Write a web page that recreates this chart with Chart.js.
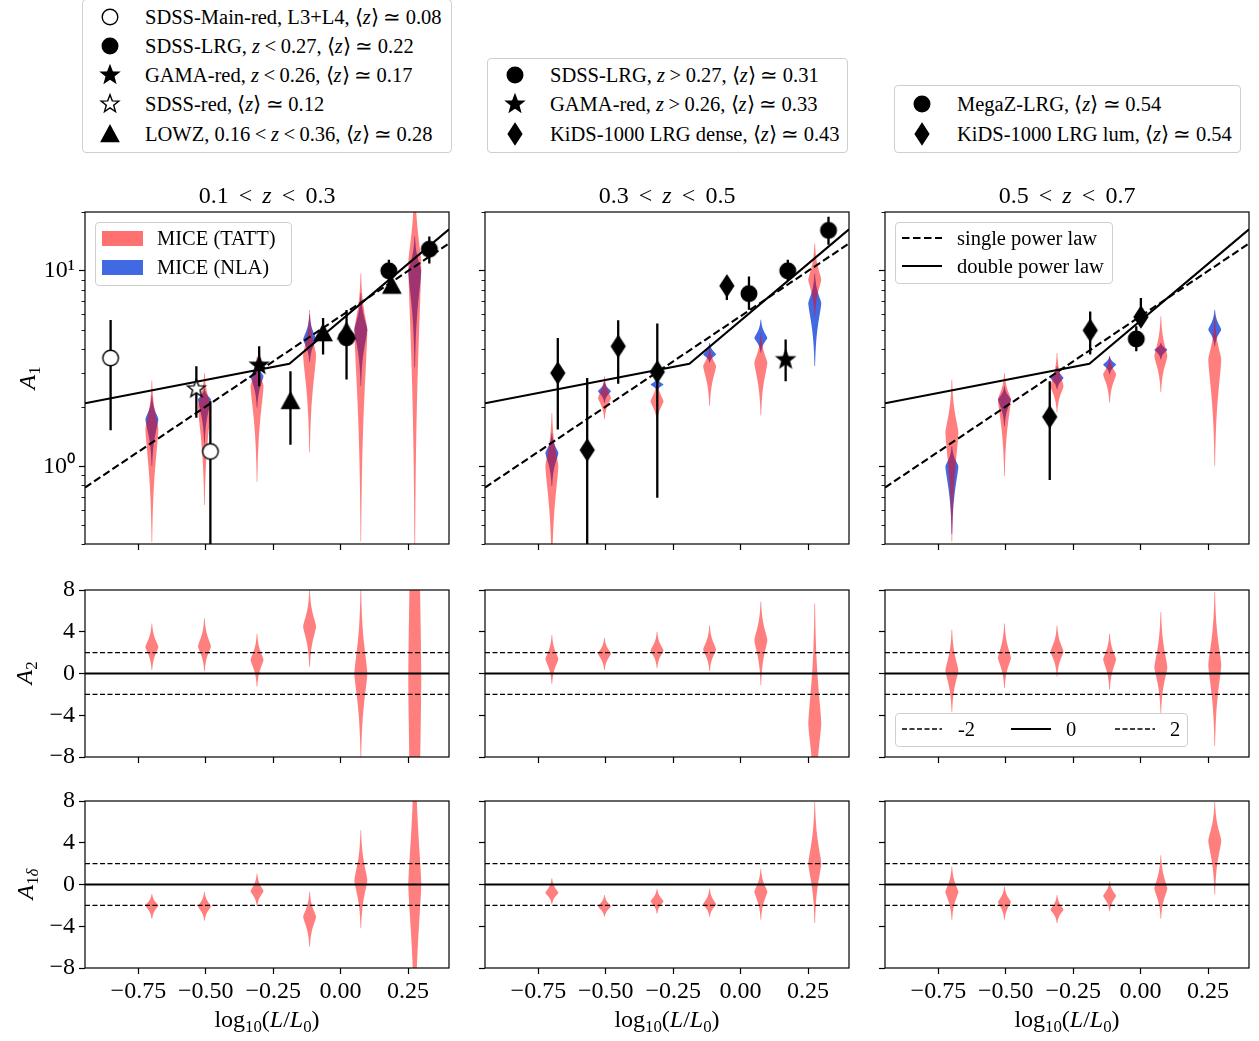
<!DOCTYPE html>
<html>
<head>
<meta charset="utf-8">
<script src="https://cdn.jsdelivr.net/npm/chart.js@4.4.1/dist/chart.umd.min.js"></script>
<style>
  body { margin: 0; background: #fff; width: 1259px; height: 1041px; position: relative; overflow: hidden;
         font-family: 'Liberation Serif', serif; color: #000; }
  canvas.panel { position: absolute; }
  .txt { position: absolute; white-space: nowrap; line-height: 1; transform: translate(-50%, -50%); }
  .ylab { position: absolute; white-space: nowrap; line-height: 1; transform: translate(-50%, -50%) rotate(-90deg); }
  .legend { position: absolute; box-sizing: border-box; border: 1px solid #cfcfcf; border-radius: 4px;
            background: rgba(255, 255, 255, 0.85); }
  .legend canvas { position: absolute; }
  .ltxt { position: absolute; white-space: nowrap; line-height: 1; transform: translateY(-50%); font-size: 20.5px; }
  .rel { margin: 0 0.22em; }
  .txt .rel { margin: 0 0.42em; }
  sub { font-size: 0.7em; vertical-align: -0.28em; line-height: 0; }
</style>
</head>
<body>
<script>
// ---------- data ----------
const Z_BINS = ['0.1<span class="rel">&lt;</span><i>z</i><span class="rel">&lt;</span>0.3',
                '0.3<span class="rel">&lt;</span><i>z</i><span class="rel">&lt;</span>0.5',
                '0.5<span class="rel">&lt;</span><i>z</i><span class="rel">&lt;</span>0.7'];
const LUM_BINS = [-0.70, -0.505, -0.31, -0.115, 0.075, 0.275];
const X_TICKS = [-0.75, -0.5, -0.25, 0, 0.25];
const X_RANGE = [-0.948, 0.402];
const A1_RANGE = [0.4, 20];
const A1_MAJOR = [1, 10];
const A1_MINOR = [0.4, 0.5, 0.6, 0.7, 0.8, 0.9, 2, 3, 4, 5, 6, 7, 8, 9, 20];
const LIN_RANGE = [-8, 8];
const LIN_TICKS = [-8, -4, 0, 4, 8];
const REF_LEVELS = [-2, 0, 2];

// MICE (TATT) A1 posteriors: peak / lower / upper, one row per redshift bin
const tattA1Peak = [[1.55, 2.03, 2.57, 3.7, 5.0, 11.0], [1.0, 2.24, 2.15, 3.25, 3.38, 9.0], [1.49, 2.2, 2.57, 2.95, 3.65, 3.51]];
const tattA1Lo   = [[0.41, 0.63, 0.83, 1.17, 0.41, 0.35], [0.3, 1.74, 1.67, 2.03, 1.81, 5.85], [0.41, 0.89, 1.88, 2.11, 2.38, 1.0]];
const tattA1Hi   = [[2.75, 3.0, 3.65, 6.3, 9.7, 30], [1.87, 2.89, 2.78, 4.11, 4.8, 13.8], [2.78, 3.0, 3.8, 3.65, 5.85, 5.85]];
// MICE (NLA) A1 posteriors
const nlaA1Peak = [[1.74, 2.2, 2.9, 4.45, 5.0, 10.0], [1.17, 2.42, 2.62, 3.73, 4.53, 6.84], [1.0, 2.2, 2.83, 3.31, 3.95, 5.0]];
const nlaA1Lo   = [[1.0, 1.3, 2.0, 3.4, 2.57, 3.2], [0.79, 2.11, 2.42, 3.38, 3.8, 3.25], [0.45, 1.6, 2.47, 2.95, 3.51, 4.11]];
const nlaA1Hi   = [[2.3, 2.5, 3.4, 5.97, 7.7, 15], [1.48, 2.72, 2.83, 4.27, 5.62, 9.7], [1.27, 2.57, 3.25, 3.65, 4.27, 6.32]];
// MICE (TATT) A2
const tattA2Peak = [[2.55, 2.6, 1.3, 4.5, 0.0, -0.5], [1.4, 1.9, 2.2, 2.3, 3.2, -4.8], [0.3, 1.5, 2.1, 1.35, 0.6, 0.8]];
const tattA2Lo   = [[0.3, 0.2, -1.3, 0.6, -8.2, -60], [-1.0, 0.3, 0.5, 0.2, -1.1, -14], [-3.7, -1.4, -0.3, -1.6, -3.8, -7.0]];
const tattA2Hi   = [[4.8, 5.3, 3.8, 8.0, 8.2, 60], [3.7, 3.4, 4.0, 4.6, 6.9, 6.7], [4.2, 4.8, 4.6, 3.8, 5.9, 7.8]];
// MICE (TATT) A1delta
const tattA1dPeak = [[-2.0, -2.1, -0.65, -3.1, 0.4, 0.0], [-0.8, -2.1, -1.6, -1.9, -0.7, 2.0], [-0.7, -1.7, -2.4, -1.1, -0.4, 4.2]];
const tattA1dLo   = [[-3.3, -3.5, -2.1, -6.0, -4.2, -16], [-1.9, -3.1, -2.8, -3.1, -3.4, -3.7], [-3.4, -3.4, -3.7, -2.6, -3.3, -1.0]];
const tattA1dHi   = [[-0.9, -0.7, 1.05, -0.7, 5.2, 16], [0.6, -1.0, -0.4, -0.4, 1.5, 7.9], [1.7, -0.2, -1.0, 0.3, 2.8, 7.9]];

// observational A1 measurements
const sdssMainRedX = [-0.853, -0.483], sdssMainRedY = [3.58, 1.19], sdssMainRedLo = [1.53, 0.3], sdssMainRedHi = [5.6, 2.15];
const sdssLrgLowX = [0.022, 0.179, 0.329], sdssLrgLowY = [4.54, 10.0, 12.9], sdssLrgLowLo = [2.78, 8.65, 10.9], sdssLrgLowHi = [6.3, 11.4, 15.0];
const gamaLowX = [-0.302], gamaLowY = [3.29], gamaLowLo = [2.57], gamaLowHi = [4.11];
const sdssRedX = [-0.535], sdssRedY = [2.49], sdssRedLo = [1.77], sdssRedHi = [3.25];
const lowzX = [-0.186, -0.065, 0.022, 0.19], lowzY = [2.16, 4.8, 4.9, 8.4], lowzLo = [1.29, 3.73, 4.1, 7.7], lowzHi = [3.06, 5.74, 5.9, 9.2];
const sdssLrgHighX = [0.031, 0.175, 0.326], sdssLrgHighY = [7.64, 10.0, 16.1], sdssLrgHighLo = [6.32, 8.9, 13.6], sdssLrgHighHi = [9.36, 11.4, 18.9];
const gamaHighX = [0.167], gamaHighY = [3.51], gamaHighLo = [2.72], gamaHighHi = [4.45];
const kidsDenseX = [-0.678, -0.569, -0.454, -0.309, -0.051], kidsDenseY = [3.0, 1.21, 4.11, 3.04, 8.38];
const kidsDenseLo = [1.54, 0.3, 2.64, 0.69, 7.1], kidsDenseHi = [4.53, 2.83, 5.58, 5.37, 9.0];
const megazX = [-0.016], megazY = [4.48], megazLo = [3.88], megazHi = [5.2];
const kidsLumX = [-0.337, -0.187, 0.001], kidsLumY = [1.79, 4.96, 5.8], kidsLumLo = [0.85, 3.73, 5.2], kidsLumHi = [2.72, 6.2, 7.25];

// power-law fits
const splX = [-0.948, 0.402], splY = [0.778, 13.8];
const dplX = [-0.948, -0.19, 0.402], dplY = [2.1, 3.34, 16.3];

// ---------- styling / layout ----------
const BLUE = '#4169e1';
const RED_A = 'rgba(255, 0, 0, 0.5)';
const COL_LEFT = [85, 485, 885];
const PANEL_W = 364;
const ROWS = [{ top: 212, h: 332 }, { top: 590, h: 167 }, { top: 801, h: 167 }];
const PAD_L = 75, PAD_T = 12, PAD_R = 10;
const FONT = "'Liberation Serif', serif";

Chart.defaults.font.family = FONT;
Chart.defaults.color = '#000';

function marker(kind, fill) {
  const c = document.createElement('canvas');
  c.width = 26; c.height = 26;
  const g = c.getContext('2d');
  g.translate(13, 13);
  g.beginPath();
  if (kind === 'circle') {
    g.arc(0, 0, 7.8, 0, Math.PI * 2);
  } else if (kind === 'triangle') {
    g.moveTo(0, -8.5); g.lineTo(8.7, 7.5); g.lineTo(-8.7, 7.5); g.closePath();
  } else if (kind === 'star') {
    for (let k = 0; k < 10; k++) {
      const r = k % 2 ? 3.9 : 9.3;
      const a = -Math.PI / 2 + k * Math.PI / 5;
      g.lineTo(r * Math.cos(a), r * Math.sin(a));
    }
    g.closePath();
  } else if (kind === 'diamond') {
    g.moveTo(0, -10.5); g.lineTo(6.8, 0); g.lineTo(0, 10.5); g.lineTo(-6.8, 0); g.closePath();
  }
  g.fillStyle = fill; g.fill();
  g.lineWidth = 1.4; g.strokeStyle = '#000'; g.stroke();
  return c;
}

// observation groups per redshift panel
const OBS = [
  [
    { x: sdssMainRedX, y: sdssMainRedY, lo: sdssMainRedLo, hi: sdssMainRedHi, m: ['circle', '#fff'] },
    { x: sdssLrgLowX, y: sdssLrgLowY, lo: sdssLrgLowLo, hi: sdssLrgLowHi, m: ['circle', '#000'] },
    { x: gamaLowX, y: gamaLowY, lo: gamaLowLo, hi: gamaLowHi, m: ['star', '#000'] },
    { x: sdssRedX, y: sdssRedY, lo: sdssRedLo, hi: sdssRedHi, m: ['star', '#fff'] },
    { x: lowzX, y: lowzY, lo: lowzLo, hi: lowzHi, m: ['triangle', '#000'] },
  ],
  [
    { x: sdssLrgHighX, y: sdssLrgHighY, lo: sdssLrgHighLo, hi: sdssLrgHighHi, m: ['circle', '#000'] },
    { x: gamaHighX, y: gamaHighY, lo: gamaHighLo, hi: gamaHighHi, m: ['star', '#000'] },
    { x: kidsDenseX, y: kidsDenseY, lo: kidsDenseLo, hi: kidsDenseHi, m: ['diamond', '#000'] },
  ],
  [
    { x: megazX, y: megazY, lo: megazLo, hi: megazHi, m: ['circle', '#000'] },
    { x: kidsLumX, y: kidsLumY, lo: kidsLumLo, hi: kidsLumHi, m: ['diamond', '#000'] },
  ],
];

// violins drawn through the chart scales, below the datasets
const violinPlugin = {
  id: 'violins',
  beforeDatasetsDraw(chart, args, opts) {
    if (!opts.sets) return;
    const { ctx, chartArea: a, scales: { x, y } } = chart;
    const tf = y.type === 'logarithmic' ? Math.log10 : v => v;
    ctx.save();
    ctx.beginPath();
    ctx.rect(a.left, a.top, a.right - a.left, a.bottom - a.top);
    ctx.clip();
    opts.sets.forEach(set => {
      ctx.fillStyle = set.color;
      LUM_BINS.forEach((pos, i) => {
        const cx = x.getPixelForValue(pos);
        const half = Math.abs(x.getPixelForValue(pos + opts.width / 2) - cx);
        const pk = tf(set.peak[i]), lo = tf(set.lo[i]), hi = tf(set.hi[i]);
        const pTop = Math.max(y.getPixelForValue(set.hi[i]), a.top - 2);
        const pBot = Math.min(y.getPixelForValue(set.lo[i]), a.bottom + 2);
        const pPeak = y.getPixelForValue(set.peak[i]);
        const rows = [];
        for (let py = pTop; py <= pBot; py += 0.5) rows.push(py);
        if (pPeak > pTop && pPeak < pBot) rows.push(pPeak);
        rows.sort((p, q) => p - q);
        const w = rows.map(py => {
          const v = tf(y.getValueForPixel(py));
          const t = v >= pk ? (v - pk) / (hi - pk) : (pk - v) / (pk - lo);
          return half * Math.exp(-Math.pow(2.2 * Math.min(Math.max(t, 0), 1.2), 1.4));
        });
        ctx.beginPath();
        rows.forEach((py, k) => ctx.lineTo(cx + w[k], py));
        for (let k = rows.length - 1; k >= 0; k--) ctx.lineTo(cx - w[k], rows[k]);
        ctx.closePath();
        ctx.fill();
      });
    });
    ctx.restore();
  },
};

const framePlugin = {
  id: 'frame',
  afterDatasetsDraw(chart) {
    const { ctx, chartArea: a } = chart;
    const y = chart.scales.y;
    ctx.save();
    ctx.strokeStyle = '#000';
    ctx.lineWidth = 1.2;
    ctx.strokeRect(a.left, a.top, a.right - a.left, a.bottom - a.top);
    if (y.type === 'logarithmic') {
      ctx.lineWidth = 0.9;
      A1_MINOR.forEach(v => {
        const py = Math.round(y.getPixelForValue(v)) + 0.5;
        ctx.beginPath(); ctx.moveTo(a.left, py); ctx.lineTo(a.left - 3.5, py); ctx.stroke();
      });
    }
    ctx.restore();
  },
};

const minus = s => String(s).replace('-', '\u2212');
// fixed box sizes so every panel's plot area lands on the same pixels
const fixBox = (s, w, h) => {
  if (w !== null) s.width = w;
  if (h !== null) s.height = h;
  s.paddingTop = 0; s.paddingBottom = 0; s.paddingLeft = 0; s.paddingRight = 0;
};

function panel(row, col) {
  const r = ROWS[row];
  const bottomH = row === 2 ? 62 : 12;
  const cv = document.createElement('canvas');
  cv.className = 'panel';
  cv.width = PANEL_W + PAD_L + PAD_R;
  cv.height = r.h + PAD_T + bottomH;
  cv.style.left = (COL_LEFT[col] - PAD_L) + 'px';
  cv.style.top = (r.top - PAD_T) + 'px';
  document.body.appendChild(cv);

  const datasets = [];
  let violins;
  if (row === 0) {
    OBS[col].forEach(s => {
      datasets.push({
        type: 'scatter', order: 0,
        data: s.x.map((x, i) => ({ x, y: s.y[i] })),
        pointStyle: marker(s.m[0], s.m[1]), pointRadius: 8, pointHoverRadius: 8,
      });
    });
    const err = [];
    OBS[col].forEach(s => s.x.forEach((x, i) => err.push({ x, y: s.lo[i] }, { x, y: s.hi[i] }, { x, y: null })));
    datasets.push({ type: 'line', order: 1, data: err, borderColor: '#000', borderWidth: 2.3, pointRadius: 0, spanGaps: false });
    datasets.push({ type: 'line', order: 2, data: splX.map((x, i) => ({ x, y: splY[i] })),
      borderColor: '#000', borderWidth: 2.1, borderDash: [7.5, 3.5], pointRadius: 0 });
    datasets.push({ type: 'line', order: 2, data: dplX.map((x, i) => ({ x, y: dplY[i] })),
      borderColor: '#000', borderWidth: 2.1, pointRadius: 0 });
    violins = [
      { color: BLUE, peak: nlaA1Peak[col], lo: nlaA1Lo[col], hi: nlaA1Hi[col] },
      { color: RED_A, peak: tattA1Peak[col], lo: tattA1Lo[col], hi: tattA1Hi[col] },
    ];
  } else {
    REF_LEVELS.forEach(lv => {
      datasets.push({ type: 'line', data: X_RANGE.map(x => ({ x, y: lv })), borderColor: '#000',
        borderWidth: lv === 0 ? 2.2 : 1.3, borderDash: lv === 0 ? [] : [5, 2.5], pointRadius: 0 });
    });
    violins = row === 1
      ? [{ color: RED_A, peak: tattA2Peak[col], lo: tattA2Lo[col], hi: tattA2Hi[col] }]
      : [{ color: RED_A, peak: tattA1dPeak[col], lo: tattA1dLo[col], hi: tattA1dHi[col] }];
  }

  const tickFont = { family: FONT, size: 24 };
  const grid = { drawOnChartArea: false, drawTicks: true, tickLength: 6, tickColor: '#000', tickWidth: 1.2 };
  const yScale = row === 0
    ? { type: 'logarithmic', min: A1_RANGE[0], max: A1_RANGE[1],
        afterBuildTicks: s => { s.ticks = A1_MAJOR.map(v => ({ value: v })); },
        ticks: { display: col === 0, font: tickFont, padding: 4, callback: v => (v === 1 ? '10\u2070' : '10\u00b9') } }
    : { type: 'linear', min: LIN_RANGE[0], max: LIN_RANGE[1],
        afterBuildTicks: s => { s.ticks = LIN_TICKS.map(v => ({ value: v })); },
        ticks: { display: col === 0, font: tickFont, padding: 4, callback: v => minus(v) } };
  Object.assign(yScale, { grid, border: { display: false }, afterFit: s => fixBox(s, PAD_L, null) });

  new Chart(cv, {
    type: 'line',
    data: { datasets },
    options: {
      responsive: false, animation: false, devicePixelRatio: 1,
      layout: { padding: { left: 0, top: PAD_T, right: PAD_R, bottom: 0 } },
      plugins: { legend: { display: false }, tooltip: { enabled: false }, violins: { sets: violins, width: 0.048 } },
      scales: {
        x: { type: 'linear', min: X_RANGE[0], max: X_RANGE[1],
             afterBuildTicks: s => { s.ticks = X_TICKS.map(v => ({ value: v })); },
             ticks: { display: row === 2, font: tickFont, padding: 3, maxRotation: 0, autoSkip: false,
                      callback: v => minus(v.toFixed(2)) },
             grid, border: { display: false }, afterFit: s => fixBox(s, null, bottomH) },
        y: yScale,
      },
    },
    plugins: [violinPlugin, framePlugin],
  });
}

for (let row = 0; row < 3; row++) for (let col = 0; col < 3; col++) panel(row, col);

// ---------- text ----------
function text(cls, html, x, y, size) {
  const d = document.createElement('div');
  d.className = cls; d.innerHTML = html;
  d.style.left = x + 'px'; d.style.top = y + 'px'; d.style.fontSize = size + 'px';
  document.body.appendChild(d);
}
COL_LEFT.forEach((l, c) => {
  text('txt', Z_BINS[c], l + PANEL_W / 2, 195, 24);
  text('txt', 'log<sub>10</sub>(<i>L</i>/<i>L</i><sub>0</sub>)', l + PANEL_W / 2, 1019, 24);
});
text('ylab', '<i>A</i><sub>1</sub>', 27, 378, 24);
text('ylab', '<i>A</i><sub>2</sub>', 24, 673, 24);
text('ylab', '<i>A</i><sub>1<i>δ</i></sub>', 25, 884, 24);

// ---------- legends ----------
function swatch(color) {
  const c = document.createElement('canvas'); c.width = 41; c.height = 15;
  const g = c.getContext('2d'); g.fillStyle = color; g.fillRect(0, 0, 41, 15);
  return c;
}
function lineIcon(width, dash, len) {
  const c = document.createElement('canvas'); c.width = len; c.height = 8;
  const g = c.getContext('2d'); g.strokeStyle = '#000'; g.lineWidth = width; g.setLineDash(dash);
  g.beginPath(); g.moveTo(0, 4); g.lineTo(len, 4); g.stroke();
  return c;
}
function legend(box, rows) {
  const d = document.createElement('div'); d.className = 'legend';
  Object.assign(d.style, { left: box[0] + 'px', top: box[1] + 'px', width: box[2] + 'px', height: box[3] + 'px' });
  rows.forEach(r => {
    r.icon.style.left = (r.ix - box[0] - 1 - r.icon.width / 2) + 'px';
    r.icon.style.top = (r.y - box[1] - 1 - r.icon.height / 2) + 'px';
    d.appendChild(r.icon);
    const t = document.createElement('div'); t.className = 'ltxt'; t.innerHTML = r.html;
    t.style.left = (r.tx - box[0] - 1) + 'px'; t.style.top = (r.y - box[1] - 1) + 'px';
    d.appendChild(t);
  });
  document.body.appendChild(d);
}
const Z = '⟨<i>z</i>⟩<span class="rel">≃</span>';
const LT = '<span class="rel">&lt;</span>', GT = '<span class="rel">&gt;</span>';
legend([82, -1, 370, 154], [
  { icon: marker('circle', '#fff'), ix: 110, tx: 145, y: 17, html: `SDSS-Main-red, L3+L4, ${Z}0.08` },
  { icon: marker('circle', '#000'), ix: 110, tx: 145, y: 46, html: `SDSS-LRG, <i>z</i>${LT}0.27, ${Z}0.22` },
  { icon: marker('star', '#000'), ix: 110, tx: 145, y: 75, html: `GAMA-red, <i>z</i>${LT}0.26, ${Z}0.17` },
  { icon: marker('star', '#fff'), ix: 110, tx: 145, y: 104, html: `SDSS-red, ${Z}0.12` },
  { icon: marker('triangle', '#000'), ix: 110, tx: 145, y: 134, html: `LOWZ, 0.16${LT}<i>z</i>${LT}0.36, ${Z}0.28` },
]);
legend([487, 58, 361, 95], [
  { icon: marker('circle', '#000'), ix: 515, tx: 550, y: 75, html: `SDSS-LRG, <i>z</i>${GT}0.27, ${Z}0.31` },
  { icon: marker('star', '#000'), ix: 515, tx: 550, y: 104, html: `GAMA-red, <i>z</i>${GT}0.26, ${Z}0.33` },
  { icon: marker('diamond', '#000'), ix: 515, tx: 550, y: 134, html: `KiDS-1000 LRG dense, ${Z}0.43` },
]);
legend([894, 85, 347, 68], [
  { icon: marker('circle', '#000'), ix: 922, tx: 957, y: 104, html: `MegaZ-LRG, ${Z}0.54` },
  { icon: marker('diamond', '#000'), ix: 922, tx: 957, y: 134, html: `KiDS-1000 LRG lum, ${Z}0.54` },
]);
legend([95, 222, 197, 64], [
  { icon: swatch('rgb(255, 112, 112)'), ix: 122, tx: 157, y: 238, html: 'MICE (TATT)' },
  { icon: swatch(BLUE), ix: 122, tx: 157, y: 267, html: 'MICE (NLA)' },
]);
legend([895, 222, 218, 62], [
  { icon: lineIcon(2.1, [7.5, 3.5], 40), ix: 922, tx: 957, y: 238, html: 'single power law' },
  { icon: lineIcon(2.1, [], 40), ix: 922, tx: 957, y: 266, html: 'double power law' },
]);
legend([895, 713, 293, 34], [
  { icon: lineIcon(1.3, [5, 2.5], 40), ix: 922, tx: 958, y: 729, html: '-2' },
  { icon: lineIcon(2.2, [], 40), ix: 1031, tx: 1066, y: 729, html: '0' },
  { icon: lineIcon(1.3, [5, 2.5], 40), ix: 1135, tx: 1170, y: 729, html: '2' },
]);
</script>
</body>
</html>
